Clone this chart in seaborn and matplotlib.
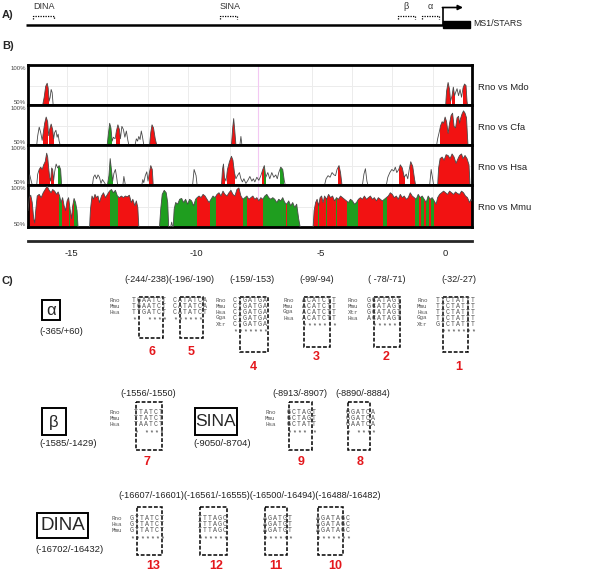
import numpy as np
import pandas as pd
import matplotlib
matplotlib.use("Agg")
import matplotlib.pyplot as plt
import seaborn as sns
from matplotlib.patches import Rectangle
from matplotlib.path import Path

sns.set_style("white")
plt.rcParams["font.family"] = ["Liberation Sans", "DejaVu Sans"]

GAP = (np.nan, np.nan)

# ---------------- Panel A: map labels ----------------
map_labels = ["DINA", "SINA", "\u03b2", "\u03b1"]
gene_label = "MS1/STARS"

# ---------------- Panel B: % identity profiles (kb, %) ----------------
track_names = ["Rno vs Mdo", "Rno vs Cfa", "Rno vs Hsa", "Rno vs Mmu"]
axis_ticks = [-15, -10, -5, 0]

mdo_profile = [(-16.16, 50), (-16.10, 60), (-16.04, 74), (-15.98, 78), (-15.94, 72), (-15.90, 55),
               (-15.86, 60), (-15.82, 70), (-15.78, 66), (-15.74, 50), GAP,
               (0.02, 50), (0.06, 68), (0.12, 79), (0.18, 70), (0.22, 55), (0.28, 62), (0.33, 73),
               (0.38, 62), (0.42, 66), (0.48, 71), (0.54, 62), (0.60, 70), (0.66, 60), (0.72, 72),
               (0.78, 77), (0.84, 75), (0.88, 55), (0.90, 50)]
mdo_red = [(-16.16, -15.92), (0.02, 0.22), (0.26, 0.40), (0.70, 0.90)]
mdo_green = []

cfa_profile = [(-16.40, 50), (-16.36, 62), (-16.30, 73), (-16.24, 66), (-16.18, 56), (-16.14, 65),
               (-16.08, 78), (-16.02, 86), (-15.96, 80), (-15.92, 62), (-15.88, 70), (-15.82, 77),
               (-15.76, 70), (-15.72, 58), (-15.68, 66), (-15.63, 69), (-15.58, 60), (-15.54, 64),
               (-15.50, 55), (-15.46, 50), GAP,
               (-13.57, 50), (-13.52, 65), (-13.47, 78), (-13.42, 72), (-13.37, 55), (-13.32, 60),
               (-13.25, 58), (-13.20, 68), (-13.14, 76), (-13.08, 70), (-13.04, 58), (-12.98, 74),
               (-12.92, 70), (-12.86, 60), (-12.80, 68), (-12.74, 56), (-12.70, 50), GAP,
               (-12.45, 50), (-12.40, 58), (-12.35, 55), (-12.30, 61), (-12.25, 57), (-12.20, 68),
               (-12.15, 60), (-12.10, 50), GAP,
               (-11.87, 50), (-11.82, 66), (-11.77, 76), (-11.71, 72), (-11.64, 58), (-11.58, 50), GAP,
               (-8.58, 50), (-8.53, 72), (-8.49, 84), (-8.45, 70), (-8.40, 50), GAP,
               (-8.24, 50), (-8.20, 61), (-8.16, 50), GAP,
               (-0.34, 50), (-0.30, 58), (-0.24, 66), (-0.18, 75), (-0.12, 80), (-0.06, 78), (0.00, 86),
               (0.06, 80), (0.12, 65), (0.18, 78), (0.24, 88), (0.30, 91), (0.36, 74), (0.42, 72),
               (0.48, 85), (0.54, 87), (0.58, 78), (0.62, 84), (0.68, 90), (0.74, 94), (0.80, 91),
               (0.86, 85), (0.90, 60), (0.92, 50)]
cfa_red = [(-16.14, -15.93), (-15.90, -15.72), (-13.20, -13.04), (-11.87, -11.58), (-8.58, -8.40),
           (-0.22, 0.92)]
cfa_green = [(-13.57, -13.38)]

hsa_profile = [(-16.72, 50), (-16.68, 63), (-16.62, 55), (-16.58, 50), GAP,
               (-16.40, 50), (-16.36, 64), (-16.30, 70), (-16.24, 73), (-16.18, 70), (-16.12, 76),
               (-16.06, 80), (-16.00, 91), (-15.96, 86), (-15.92, 72), (-15.88, 60), (-15.84, 55),
               (-15.80, 72), (-15.76, 70), (-15.72, 56), (-15.68, 67), (-15.62, 77), (-15.56, 72),
               (-15.50, 75), (-15.44, 70), (-15.40, 50), GAP,
               (-14.16, 50), (-14.12, 60), (-14.06, 63), (-14.00, 58), (-13.94, 63), (-13.88, 60),
               (-13.82, 52), (-13.76, 57), (-13.70, 54), (-13.62, 50), GAP,
               (-13.56, 50), (-13.50, 62), (-13.45, 84), (-13.40, 70), (-13.35, 55), (-13.30, 65),
               (-13.24, 70), (-13.19, 60), (-13.15, 50), GAP,
               (-12.94, 50), (-12.90, 61), (-12.84, 50), GAP,
               (-12.18, 50), (-12.14, 57), (-12.10, 53), (-12.04, 62), (-11.98, 67), (-11.93, 55),
               (-11.88, 65), (-11.82, 75), (-11.76, 70), (-11.72, 50), GAP,
               (-10.14, 50), (-10.08, 70), (-10.00, 62), (-9.96, 50), GAP,
               (-8.98, 50), (-8.94, 70), (-8.90, 77), (-8.86, 60), (-8.80, 55), (-8.74, 70), (-8.66, 80),
               (-8.58, 87), (-8.52, 82), (-8.46, 66), (-8.40, 58), (-8.34, 62), (-8.26, 66), (-8.20, 58),
               (-8.14, 54), (-8.08, 58), (-8.00, 52), (-7.92, 56), (-7.84, 61), (-7.76, 55), (-7.70, 58),
               (-7.64, 54), (-7.56, 60), (-7.48, 56), (-7.40, 62), (-7.32, 70), (-7.26, 75), (-7.20, 60),
               (-7.12, 66), (-7.04, 58), (-6.96, 66), (-6.88, 60), (-6.80, 63), (-6.74, 58), (-6.68, 66),
               (-6.60, 73), (-6.52, 70), (-6.46, 56), (-6.42, 50), GAP,
               (-4.84, 50), (-4.78, 58), (-4.70, 62), (-4.62, 60), (-4.54, 66), (-4.46, 63), (-4.40, 62),
               (-4.34, 70), (-4.26, 75), (-4.20, 66), (-4.14, 50), GAP,
               (-3.32, 50), (-3.26, 64), (-3.20, 71), (-3.14, 55), (-3.10, 50), GAP,
               (-2.36, 50), (-2.30, 60), (-2.22, 66), (-2.14, 70), (-2.06, 68), (-2.00, 73), (-1.94, 66),
               (-1.86, 70), (-1.80, 76), (-1.72, 72), (-1.64, 60), (-1.56, 64), (-1.50, 58), (-1.44, 70),
               (-1.38, 80), (-1.30, 74), (-1.22, 56), (-1.18, 50), GAP,
               (-0.62, 50), (-0.56, 70), (-0.50, 58), (-0.46, 50), GAP,
               (-0.30, 50), (-0.26, 72), (-0.20, 84), (-0.12, 86), (-0.04, 82), (0.04, 89), (0.12, 88),
               (0.20, 84), (0.28, 90), (0.36, 86), (0.44, 78), (0.52, 84), (0.58, 88), (0.66, 90),
               (0.72, 84), (0.80, 88), (0.88, 84), (0.96, 76), (1.00, 50)]
hsa_red = [(-16.32, -15.88), (-15.84, -15.70), (-11.90, -11.72), (-8.98, -8.84), (-8.76, -8.44),
           (-7.34, -7.28), (-4.30, -4.14), (-1.84, -1.62), (-1.42, -1.20), (-0.30, 1.00)]
hsa_green = [(-15.56, -15.40), (-13.56, -13.35), (-7.28, -7.18), (-6.64, -6.46)]

mmu_profile = [(-16.75, 70), (-16.70, 86), (-16.64, 89), (-16.58, 80), (-16.52, 60), (-16.48, 55),
               (-16.44, 70), (-16.38, 88), (-16.30, 90), (-16.22, 86), (-16.14, 92), (-16.06, 96),
               (-15.98, 100), (-15.90, 95), (-15.82, 92), (-15.76, 96), (-15.68, 94), (-15.60, 90),
               (-15.54, 93), (-15.48, 88), (-15.42, 80), (-15.36, 86), (-15.30, 76), (-15.24, 70),
               (-15.18, 82), (-15.12, 86), (-15.06, 72), (-15.00, 60), (-14.96, 75), (-14.90, 85),
               (-14.84, 80), (-14.78, 70), (-14.74, 50), GAP,
               (-14.28, 50), (-14.24, 72), (-14.18, 88), (-14.12, 84), (-14.06, 90), (-14.00, 86),
               (-13.94, 88), (-13.88, 80), (-13.80, 88), (-13.72, 92), (-13.64, 86), (-13.56, 90),
               (-13.48, 94), (-13.40, 96), (-13.32, 92), (-13.24, 95), (-13.16, 88), (-13.08, 86),
               (-13.00, 88), (-12.92, 86), (-12.84, 88), (-12.76, 87), (-12.68, 89), (-12.60, 80),
               (-12.54, 84), (-12.46, 76), (-12.40, 82), (-12.34, 74), (-12.30, 50), GAP,
               (-11.47, 50), (-11.42, 72), (-11.36, 90), (-11.28, 95), (-11.20, 92), (-11.14, 80),
               (-11.10, 50), GAP,
               (-11.02, 50), (-10.98, 56), (-10.94, 50), GAP,
               (-10.92, 50), (-10.88, 72), (-10.82, 80), (-10.74, 78), (-10.66, 84), (-10.58, 85),
               (-10.50, 80), (-10.42, 84), (-10.34, 78), (-10.26, 84), (-10.18, 82), (-10.10, 76),
               (-10.02, 84), (-9.96, 86), (-9.88, 88), (-9.80, 86), (-9.72, 90), (-9.64, 88),
               (-9.56, 84), (-9.48, 80), (-9.40, 84), (-9.32, 88), (-9.24, 86), (-9.16, 90),
               (-9.08, 92), (-9.00, 88), (-8.92, 94), (-8.84, 90), (-8.76, 88), (-8.68, 92),
               (-8.60, 95), (-8.52, 90), (-8.44, 88), (-8.36, 96), (-8.28, 98), (-8.20, 88),
               (-8.12, 84), (-8.04, 86), (-7.96, 88), (-7.88, 84), (-7.80, 86), (-7.72, 88),
               (-7.64, 84), (-7.56, 86), (-7.48, 82), (-7.40, 86), (-7.32, 84), (-7.24, 88),
               (-7.16, 90), (-7.08, 86), (-7.00, 84), (-6.92, 86), (-6.84, 84), (-6.76, 80),
               (-6.68, 84), (-6.60, 82), (-6.52, 86), (-6.44, 80), (-6.36, 78), (-6.28, 82),
               (-6.20, 76), (-6.12, 80), (-6.04, 74), (-5.96, 78), (-5.88, 60), (-5.82, 50), GAP,
               (-5.30, 50), (-5.26, 70), (-5.20, 80), (-5.14, 84), (-5.08, 76), (-5.02, 86),
               (-4.96, 88), (-4.90, 80), (-4.84, 88), (-4.76, 84), (-4.68, 90), (-4.60, 86),
               (-4.52, 88), (-4.44, 82), (-4.36, 86), (-4.28, 84), (-4.20, 88), (-4.12, 86),
               (-4.04, 84), (-3.96, 82), (-3.88, 80), (-3.80, 84), (-3.72, 82), (-3.64, 78),
               (-3.56, 80), (-3.48, 84), (-3.40, 86), (-3.32, 84), (-3.24, 88), (-3.16, 84),
               (-3.08, 86), (-3.00, 88), (-2.92, 84), (-2.84, 86), (-2.76, 82), (-2.68, 86),
               (-2.60, 84), (-2.52, 82), (-2.44, 84), (-2.36, 86), (-2.28, 88), (-2.20, 92),
               (-2.12, 90), (-2.04, 86), (-1.96, 88), (-1.88, 84), (-1.80, 90), (-1.72, 86),
               (-1.64, 88), (-1.56, 84), (-1.48, 86), (-1.40, 92), (-1.32, 88), (-1.24, 86),
               (-1.16, 84), (-1.08, 90), (-1.00, 86), (-0.92, 88), (-0.84, 84), (-0.76, 80),
               (-0.68, 88), (-0.60, 84), (-0.52, 86), (-0.44, 82), (-0.36, 78), (-0.30, 86),
               (-0.22, 90), (-0.14, 92), (-0.06, 94), (0.02, 92), (0.10, 90), (0.18, 94),
               (0.26, 92), (0.34, 90), (0.42, 93), (0.50, 91), (0.58, 90), (0.66, 94),
               (0.74, 92), (0.82, 88), (0.90, 86), (0.98, 80), (1.04, 84), (1.08, 82)]
mmu_red = [(-16.75, -15.52), (-15.38, -15.12), (-15.06, -14.90), (-14.28, -13.45), (-13.13, -12.30),
           (-9.96, -9.44), (-9.20, -8.11), (-7.95, -7.31), (-6.40, -6.36), (-5.30, -3.94),
           (-3.49, -2.49), (-2.33, -1.20), (-1.05, -0.95), (-0.85, -0.75), (-0.65, -0.55),
           (-0.45, 1.08)]
mmu_green = [(-15.52, -15.38), (-15.12, -15.06), (-14.90, -14.74), (-13.45, -13.13),
             (-11.47, -11.10), (-10.92, -9.96), (-9.44, -9.20), (-8.11, -7.95), (-7.31, -6.40),
             (-6.36, -5.82), (-5.10, -5.05), (-4.80, -4.75), (-4.40, -4.35), (-3.94, -3.49),
             (-2.49, -2.33), (-1.20, -1.05), (-0.95, -0.85), (-0.75, -0.65), (-0.55, -0.45)]

profiles = [mdo_profile, cfa_profile, hsa_profile, mmu_profile]
reds = [mdo_red, cfa_red, hsa_red, mmu_red]
greens = [mdo_green, cfa_green, hsa_green, mmu_green]

# ---------------- Panel C: motifs ----------------
region_names = ["\u03b1", "\u03b2", "SINA", "DINA"]
region_ranges = ["(-365/+60)", "(-1585/-1429)", "(-9050/-8704)", "(-16702/-16432)"]
headers = ["(-244/-238)(-196/-190)", "(-159/-153)", "(-99/-94)", "( -78/-71)", "(-32/-27)",
           "(-1556/-1550)", "(-8913/-8907)", "(-8890/-8884)",
           "(-16607/-16601)(-16561/-16555)(-16500/-16494)(-16488/-16482)"]
motif_species = [["Rno", "Mmu", "Hsa"], None, ["Rno", "Mmu", "Hsa", "Gga", "Xtr"],
                 ["Rno", "Mmu", "Gga", "Hsa"], ["Rno", "Mmu", "Xtr", "Hsa"],
                 ["Rno", "Mmu", "Hsa", "Gga", "Xtr"],
                 ["Rno", "Mmu", "Hsa"], ["Rno", "Mmu", "Hsa"], None,
                 ["Rno", "Hsa", "Mmu"], None, None, None]
motif_seqs = [["TGAATCT", "TGAATCT", "TTGATCT"],
              ["CATATCA", "CATATCA", "CATATCT"],
              ["CTGATGA"] * 5,
              ["ACATCTT"] * 4,
              ["GCATAGT", "GCATAGT", "GCATAGT", "ACATAGT"],
              ["TTCTATTT"] * 4 + ["GTCTATTT"],
              ["TTATCT", "TTATCT", "TAATCT"],
              ["GCTAGT", "GCTAGT", "GCTATT"],
              ["GGATCA", "GGATCA", "GAATCA"],
              ["GTTATCT"] * 3,
              ["TTTAGC"] * 3,
              ["AGATGT"] * 3,
              ["AGATAGC"] * 3]
motif_stars = ["*  ****", "****** ", "*******", "*******", " ******", " *******",
               "* ****", "**** *", "* ****", "*******", "******", "******", "*******"]
motif_numbers = ["6", "5", "4", "3", "2", "1", "7", "9", "8", "13", "12", "11", "10"]

# ---------------- layout (pixels) ----------------
W, H = 608, 571
RED, GREEN = "#f21212", "#1f9e1f"
XLIM = (-16.75, 1.08)
fig = plt.figure(figsize=(W / 100, H / 100), dpi=100)
ov = fig.add_axes([0, 0, 1, 1], zorder=5)
ov.set_xlim(0, W)
ov.set_ylim(H, 0)
ov.axis("off")
ov.patch.set_alpha(0)

# Panel A
ov.text(2, 15, "A)", fontsize=8, fontweight="bold", va="center")
ov.plot([26, 443], [25, 25], color="k", lw=1.8, solid_capstyle="butt")
ov.add_patch(Rectangle((443, 21), 27, 6.5, color="k"))
ov.plot([443, 443], [25, 7.5], color="k", lw=1.2)
ov.annotate("", xy=(463, 7.5), xytext=(442.4, 7.5),
            arrowprops=dict(arrowstyle="-|>", lw=1.2, color="k", mutation_scale=7, shrinkA=0, shrinkB=0))
ov.text(473, 24, gene_label, fontsize=6.3, va="center", color="#222")
map_pos = [(33, 54), (220, 237), (398, 415), (422, 439)]
for lab, (a, b) in zip(map_labels, map_pos):
    greek = lab in ("\u03b2", "\u03b1")
    ov.text((a + b) / 2 if greek else a, 6.5, lab, fontsize=6.5, color="#333",
            ha="center" if greek else "left", va="center")
    ov.plot([a, a, b, b], [18.5, 15.5, 15.5, 18.5], color="k", lw=0.9, ls=(0, (1, 1)))

# Panel B
ov.text(2, 46, "B)", fontsize=8, fontweight="bold", va="center")
track_px = [(65, 105), (105, 145), (145, 185), (185, 227)]
grid_kb = [-15.18, -13.57, -11.93, -10.32, -8.63, -5.34, -3.73, -2.13, -0.48]
for i, (top, bot) in enumerate(track_px):
    ax = fig.add_axes([28 / W, 1 - bot / H, 444 / W, (bot - top) / H], zorder=2)
    ax.set_xlim(*XLIM)
    ax.set_ylim(50, 101.5)
    ax.axhline(75, color="#ececec", lw=0.7, zorder=0)
    for g in grid_kb:
        ax.axvline(g, color="#ececec", lw=0.7, zorder=0)
    ax.axvline(-7.51, color="#f3c8f3", lw=0.8, zorder=0)
    arr = np.array(profiles[i], dtype=float)
    isl = np.cumsum(np.isnan(arr[:, 0]))
    ok = ~np.isnan(arr[:, 0])
    df = pd.DataFrame({"kb": arr[ok, 0], "pct": arr[ok, 1], "isl": isl[ok]})
    paths = []
    for _, g in df.groupby("isl"):
        verts = [(g.kb.iloc[0], 50)] + list(zip(g.kb, g.pct)) + [(g.kb.iloc[-1], 50), (g.kb.iloc[0], 50)]
        codes = [Path.MOVETO] + [Path.LINETO] * (len(verts) - 2) + [Path.CLOSEPOLY]
        paths.append(Path(verts, codes))
    clip = Path.make_compound_path(*paths)
    for segs, col in ((reds[i], RED), (greens[i], GREEN)):
        for a, b in segs:
            sp = ax.axvspan(a, b, color=col, lw=0, zorder=2)
            sp.set_clip_path(clip, ax.transData)
    sns.lineplot(data=df, x="kb", y="pct", units="isl", estimator=None, sort=False,
                 color="#4a4a4a", lw=0.6, ax=ax, zorder=3, legend=False)
    ax.set_xlabel("")
    ax.set_ylabel("")
    ax.set_xticks([])
    ax.set_yticks([])
    for s in ax.spines.values():
        s.set_linewidth(2)
        s.set_color("k")
        s.set_visible(True)
    ov.text(26, top + 3.5, "100%", fontsize=4.3, ha="right", va="center", color="#444")
    ov.text(26, bot - 3, "50%", fontsize=4.3, ha="right", va="center", color="#444")
    ov.text(478, (top + bot) / 2 + 2, track_names[i], fontsize=6.8, va="center", color="#222")

axs = fig.add_axes([28 / W, 1 - 246 / H, 444 / W, 10 / H], zorder=2)
axs.set_xlim(*XLIM)
axs.set_ylim(-1, 1)
axs.patch.set_alpha(0)
for k in ("top", "left", "right"):
    axs.spines[k].set_visible(False)
axs.spines["bottom"].set_position(("data", 0))
axs.spines["bottom"].set_linewidth(2)
axs.set_yticks([])
axs.set_xticks(axis_ticks)
axs.set_xticklabels([str(t) for t in axis_ticks])
axs.tick_params(axis="x", direction="inout", length=8, width=1.4, labelsize=6.8, pad=2, colors="#222")

# Panel C
ov.text(2, 281, "C)", fontsize=8, fontweight="bold", va="center")
box_specs = [(42, 300, 18, 20, 12), (42, 408, 24, 27, 12), (195, 408, 42, 27, 12.5), (37, 513, 51, 25, 13.5)]
range_pos = [(61, 332), (68, 443), (222, 443), (70, 550)]
for name, rng, (bx, by, bw, bh, fs), (rx, ry) in zip(region_names, region_ranges, box_specs, range_pos):
    ov.add_patch(Rectangle((bx, by), bw, bh, fill=False, ec="k", lw=1.4))
    ov.text(bx + bw / 2, by + bh / 2 + 0.5, name, fontsize=fs, ha="center", va="center")
    ov.text(rx, ry, rng, fontsize=6.8, ha="center", va="center", color="#222")

header_pos = [(169, 279, "center"), (252, 279, "center"), (317, 279, "center"), (387, 279, "center"),
              (459, 279, "center"), (148, 393, "center"), (300, 393, "center"), (363, 393, "center"),
              (118, 496, "left")]
for txt, (hx, hy, ha) in zip(headers, header_pos):
    ov.text(hx, hy, txt, fontsize=6.6, ha=ha, va="center", color="#222")

# (species_x, seq_x, first_row_y, box_x0, box_x1, box_y0, box_y1, num_x, num_y)
motif_layout = [(110, 131.5, 300, 139, 163, 297, 338, 152, 352),
                (None, 172.5, 300, 180, 203, 297, 338, 191, 352),
                (216, 232.5, 300, 240, 268, 297, 352, 253, 367),
                (283, 301.5, 300, 304, 330, 297, 347, 316, 357),
                (348, 366.5, 300, 374, 400, 297, 347, 386, 357),
                (417, 435.5, 300, 443, 468, 297, 352, 459, 367),
                (110, 133.5, 413, 136, 162, 402, 450, 147, 462),
                (265, 286.5, 413, 289, 312, 402, 450, 301, 462),
                (None, 345.5, 413, 348, 370, 402, 450, 360, 462),
                (112, 129.5, 519, 137, 162, 507, 555, 153, 566),
                (None, 197.5, 519, 200, 227, 507, 555, 216, 566),
                (None, 262.5, 519, 265, 287, 507, 555, 276, 566),
                (None, 315.5, 519, 318, 343, 507, 555, 335, 566)]
mono = ["Liberation Mono", "DejaVu Sans Mono"]
CW, RS = 5.0, 6.0
for sp_list, seqs, stars, num, (sx, qx, ry, x0, x1, y0, y1, nx, ny) in zip(
        motif_species, motif_seqs, motif_stars, motif_numbers, motif_layout):
    for r, seq in enumerate(seqs):
        y = ry + r * RS
        if sp_list is not None:
            ov.text(sx, y, sp_list[r], fontsize=4.2, family=mono, va="center", color="#555")
        for j, ch in enumerate(seq):
            ov.text(qx + (j + 0.5) * CW, y, ch, fontsize=4.8, family=mono, ha="center",
                    va="center", color="#555")
    ys = ry + len(seqs) * RS + 1.5
    for j, ch in enumerate(stars):
        if ch != " ":
            ov.text(qx + (j + 0.5) * CW, ys, ch, fontsize=4.8, family=mono, ha="center",
                    va="center", color="#333")
    ov.add_patch(Rectangle((x0, y0), x1 - x0, y1 - y0, fill=False, ec="k", lw=1.1, ls=(0, (2.5, 1.2))))
    ov.text(nx, ny, num, fontsize=9, fontweight="bold", color="#e4171c", ha="center", va="center")

fig.savefig("out.png", dpi=100)
